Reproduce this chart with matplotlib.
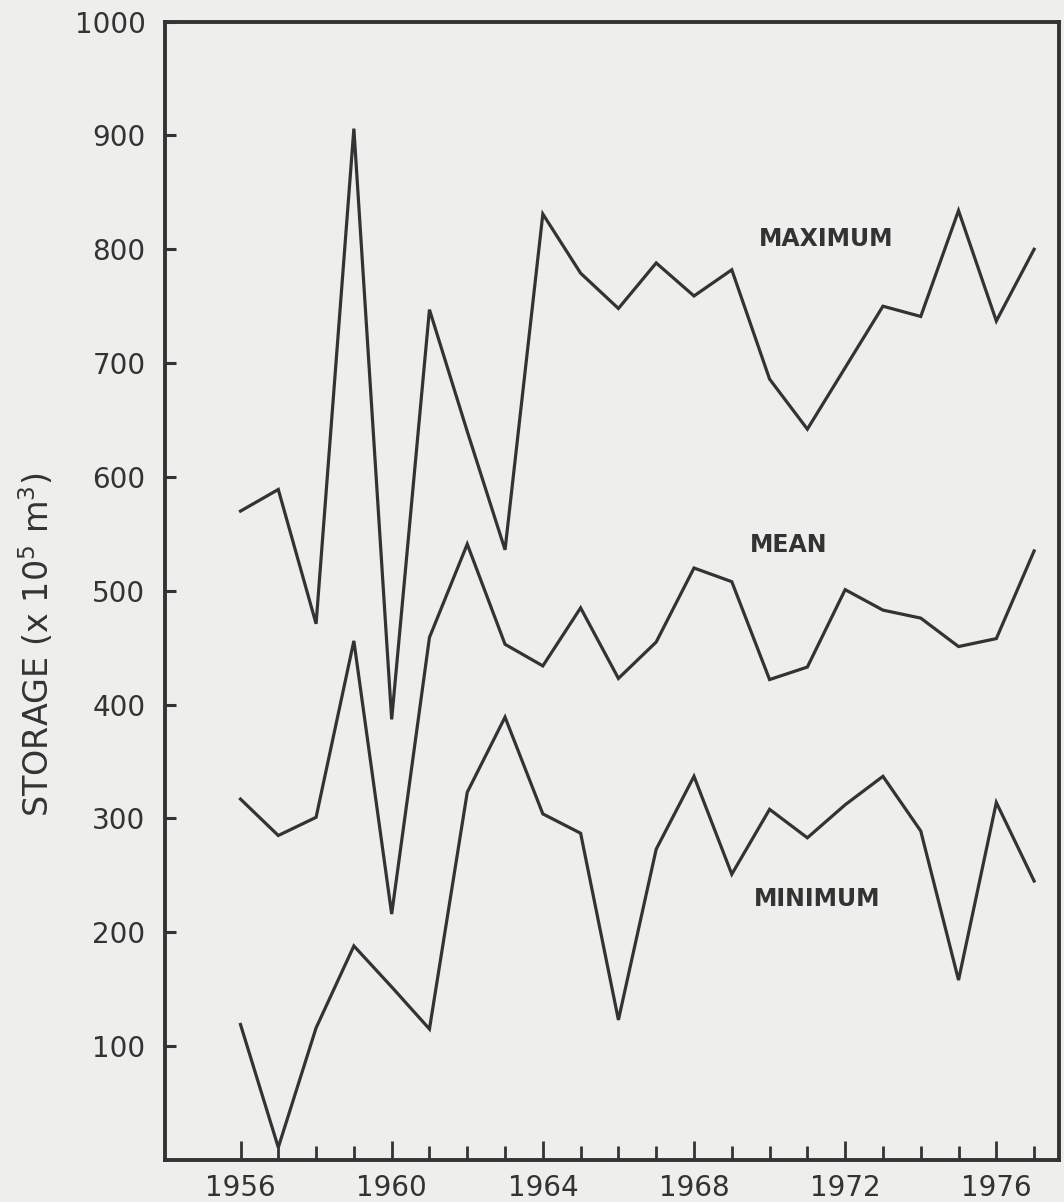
import matplotlib
matplotlib.use("Agg")
import matplotlib.pyplot as plt
from matplotlib.ticker import FixedLocator

years = list(range(1956, 1978))

maximum = [570, 589, 471, 906, 387, 747, 640, 536, 831, 779, 748,
           788, 759, 782, 686, 642, 696, 750, 741, 834, 737, 800]
mean = [317, 285, 301, 456, 216, 459, 541, 453, 434, 485, 423,
        455, 520, 508, 422, 433, 501, 483, 476, 451, 458, 535]
minimum = [119, 11, 116, 188, 152, 115, 323, 389, 304, 287, 123,
           273, 337, 251, 308, 283, 312, 337, 289, 158, 314, 245]

labels = ["MAXIMUM", "MEAN", "MINIMUM"]
label_pos = [(1971.5, 809), (1970.5, 540), (1971.25, 229)]

ink = "#333333"
paper = "#eeeeec"

fig = plt.figure(figsize=(10.64, 12.02), dpi=100, facecolor=paper)
ax = fig.add_axes([0.155, 0.035, 0.84, 0.947], facecolor=paper)

for series in [maximum, mean, minimum]:
    ax.plot(years, series, color=ink, linewidth=2.3, solid_joinstyle="miter")

for text, (x, y) in zip(labels, label_pos):
    ax.text(x, y, text, ha="center", va="center", fontsize=17,
            fontweight="bold", color=ink)

ax.set_xlim(1954, 1977.65)
ax.set_ylim(0, 1000)

ax.set_xticks(range(1956, 1978, 4))
ax.xaxis.set_minor_locator(FixedLocator(years))
ax.set_yticks(range(100, 1001, 100))

ax.tick_params(axis="x", which="major", direction="in", length=14, width=2,
               color=ink, labelsize=20, labelcolor=ink, pad=10)
ax.tick_params(axis="x", which="minor", direction="in", length=10, width=2,
               color=ink)
ax.tick_params(axis="y", direction="in", length=8, width=2.2, color=ink,
               labelsize=20, labelcolor=ink, pad=14)

for sp in ax.spines.values():
    sp.set_linewidth(2.8)
    sp.set_color(ink)

ax.set_ylabel("STORAGE (x 10$^5$ m$^3$)", fontsize=24, color=ink)
ax.yaxis.set_label_coords(-0.122, 0.453)

fig.savefig("out.png", dpi=100, facecolor=paper)
